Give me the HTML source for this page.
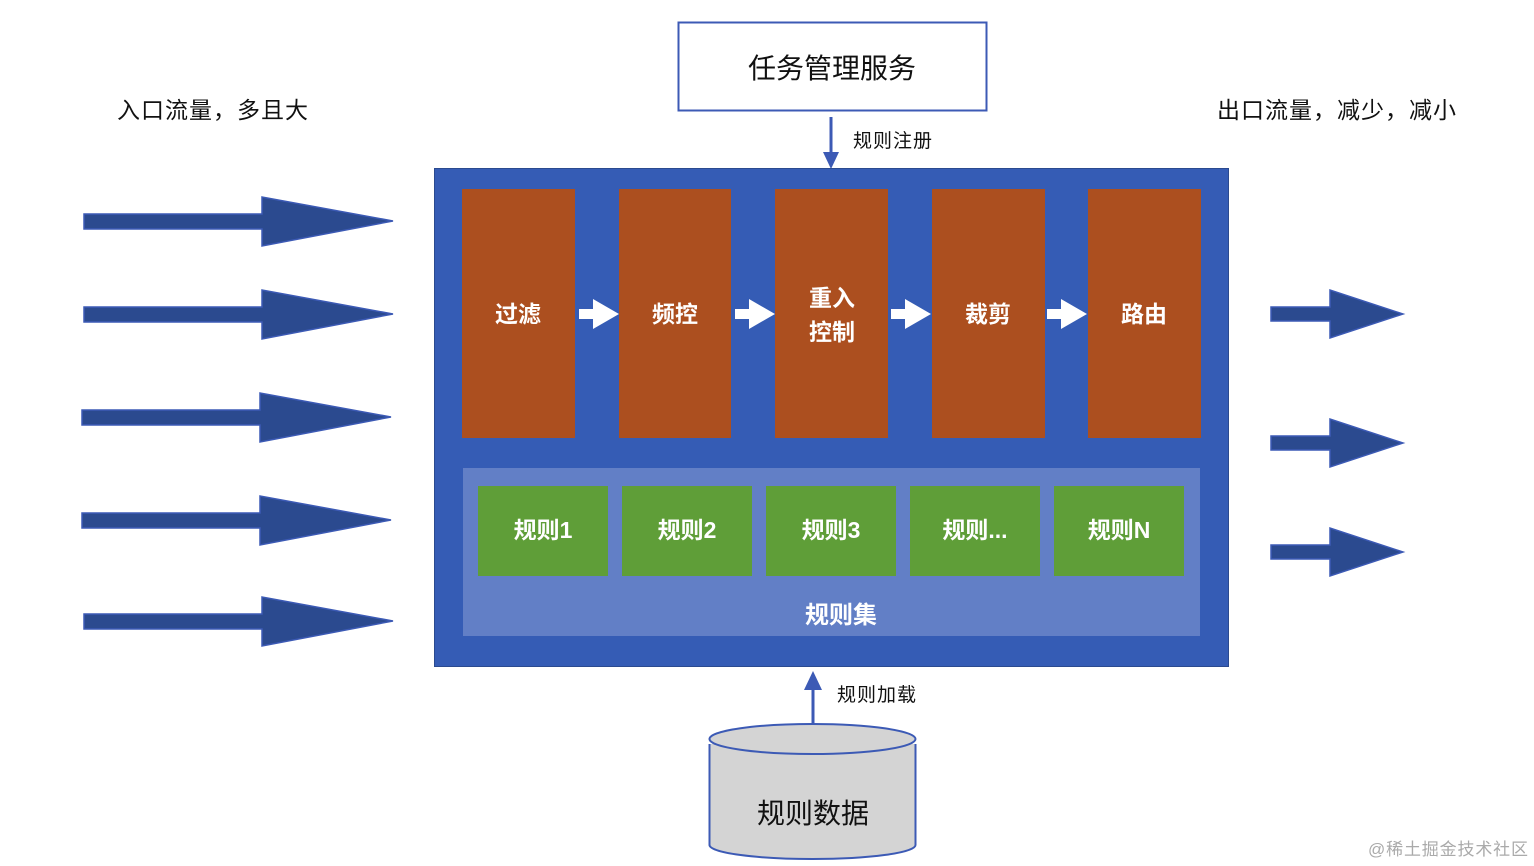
<!DOCTYPE html>
<html><head><meta charset="utf-8"><style>
body{margin:0;background:#fff;}
svg{display:block;font-family:"Liberation Sans","Noto Sans CJK SC",sans-serif;}
</style></head><body>
<svg width="1534" height="866" viewBox="0 0 1534 866" xmlns="http://www.w3.org/2000/svg">
<rect width="1534" height="866" fill="#fff"/>
<rect x="678.5" y="22.5" width="308" height="88" fill="#fff" stroke="#3C5AB5" stroke-width="2"/>
<text x="832" y="78" font-size="28" text-anchor="middle" fill="#111">任务管理服务</text>
<line x1="831" y1="117" x2="831" y2="156" stroke="#3C5AB5" stroke-width="3"/>
<polygon points="823,152 839,152 831,169" fill="#3C5AB5"/>
<text x="853" y="147" font-size="19" fill="#111" textLength="79">规则注册</text>
<text x="117" y="118" font-size="23" fill="#111" textLength="191">入口流量，多且大</text>
<text x="1217" y="118" font-size="23" fill="#111" textLength="239">出口流量，减少，减小</text>
<rect x="434.5" y="168.5" width="794" height="498" fill="#355CB5" stroke="#2B4A8F" stroke-width="1"/>
<g fill="#AC4F1F">
<rect x="462" y="189" width="113" height="249"/>
<rect x="619" y="189" width="112" height="249"/>
<rect x="775" y="189" width="113" height="249"/>
<rect x="932" y="189" width="113" height="249"/>
<rect x="1088" y="189" width="113" height="249"/>
</g>
<g fill="#fff">
<path d="M579,309h14v-10l26,15l-26,15v-10h-14z"/>
<path d="M735,309h14v-10l26,15l-26,15v-10h-14z"/>
<path d="M891,309h14v-10l26,15l-26,15v-10h-14z"/>
<path d="M1047,309h14v-10l26,15l-26,15v-10h-14z"/>
</g>
<g fill="#fff" font-size="23" font-weight="bold" text-anchor="middle">
<text x="518" y="322">过滤</text>
<text x="675" y="322">频控</text>
<text x="832" y="306">重入</text>
<text x="832" y="340">控制</text>
<text x="988" y="322">裁剪</text>
<text x="1144" y="322">路由</text>
</g>
<rect x="463" y="468" width="737" height="168" fill="#627FC6"/>
<g fill="#5F9E38">
<rect x="478" y="486" width="130" height="90"/>
<rect x="622" y="486" width="130" height="90"/>
<rect x="766" y="486" width="130" height="90"/>
<rect x="910" y="486" width="130" height="90"/>
<rect x="1054" y="486" width="130" height="90"/>
</g>
<g fill="#fff" font-size="23" font-weight="bold" text-anchor="middle">
<text x="543" y="538">规则1</text>
<text x="687" y="538">规则2</text>
<text x="831" y="538">规则3</text>
<text x="975" y="538">规则...</text>
<text x="1119" y="538">规则N</text>
<text x="841" y="623" font-size="24">规则集</text>
</g>
<g fill="#2B4A8F" stroke="#3C5AB5" stroke-width="1.5">
<path d="M84,214h178v-17l131,24l-131,25v-17h-178z"/>
<path d="M84,307h178v-17l131,24l-131,25v-17h-178z"/>
<path d="M82,410h178v-17l131,24l-131,25v-17h-178z"/>
<path d="M82,513h178v-17l131,24l-131,25v-17h-178z"/>
<path d="M84,614h178v-17l131,24l-131,25v-17h-178z"/>
<path d="M1271,307h59v-17l73,24l-73,24v-17h-59z"/>
<path d="M1271,436h59v-17l73,24l-73,24v-17h-59z"/>
<path d="M1271,545h59v-17l73,24l-73,24v-17h-59z"/>
</g>
<line x1="813" y1="723" x2="813" y2="686" stroke="#3C5AB5" stroke-width="3"/>
<polygon points="804,690 822,690 813,671" fill="#3C5AB5"/>
<text x="837" y="701" font-size="19" fill="#111" textLength="79">规则加载</text>
<path d="M709.5,744 V845 A103,14 0 0 0 915.5,845 V744" fill="#D4D4D4" stroke="#3C5AB5" stroke-width="2"/>
<ellipse cx="812.5" cy="739" rx="103" ry="15" fill="#D4D4D4" stroke="#3C5AB5" stroke-width="2"/>
<text x="813" y="823" font-size="28" text-anchor="middle" fill="#111">规则数据</text>
<text x="1368" y="855" font-size="17" fill="#aaa" textLength="160">@稀土掘金技术社区</text>
</svg>
</body></html>
